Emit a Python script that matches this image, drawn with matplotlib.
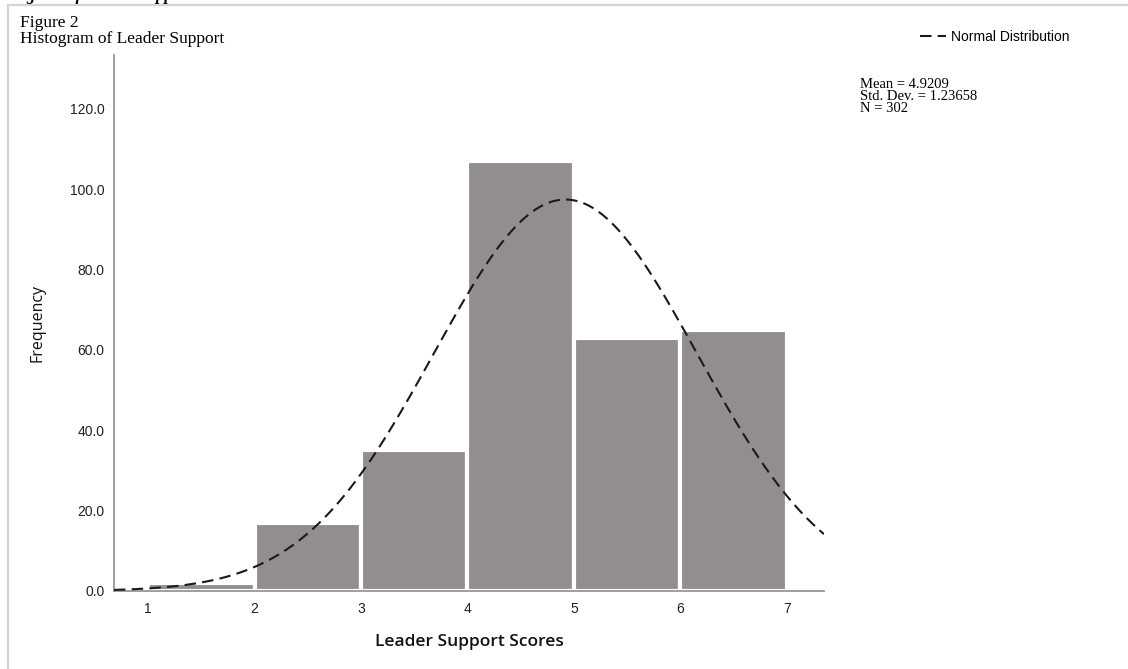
import numpy as np
import matplotlib
matplotlib.use("Agg")
import matplotlib.pyplot as plt
from matplotlib.lines import Line2D

# Leader support score histogram (bins of width 1 from 1 to 7)
bin_edges = [1, 2, 3, 4, 5, 6, 7]
frequencies = [2, 17, 35, 107, 63, 65]
y_ticks = [0, 20, 40, 60, 80, 100, 120]
x_ticks = [1, 2, 3, 4, 5, 6, 7]
mean_score = 4.9209
std_score = 1.23658
n_obs = 302

W, H = 1128, 669
fig = plt.figure(figsize=(W / 100, H / 100), dpi=100)
fig.patch.set_facecolor("white")

def fx(px):
    return px / W

def fy(py):
    return 1 - py / H

# page-like frame lines
fig.add_artist(Line2D([fx(8), fx(8)], [fy(5), 0], color="#d4d4d4", lw=1.6))
fig.add_artist(Line2D([fx(8), 1], [fy(5), fy(5)], color="#d4d4d4", lw=1.6))

# caption heading running off the top edge
fig.text(fx(-10), fy(-0.5), "Histogram of Leader Support", family="Liberation Serif",
         style="italic", weight="bold", fontsize=12, va="baseline", ha="left")

fig.text(fx(20), fy(27), "Figure 2", family="Liberation Serif", fontsize=12.5,
         va="baseline", ha="left")
fig.text(fx(20), fy(43), "Histogram of Leader Support", family="Liberation Serif",
         fontsize=12.5, va="baseline", ha="left")

ax = fig.add_axes([fx(114), fy(591), fx(824) - fx(114), fy(55) - fy(591)])

edges = np.array(bin_edges, dtype=float)
ax.bar(edges[:-1], frequencies, width=np.diff(edges), align="edge",
       color="#928e8d", edgecolor="white", linewidth=3, zorder=2)

xs = np.linspace(0.68, 7.35, 400)
binw = 1.0
curve = n_obs * binw * np.exp(-0.5 * ((xs - mean_score) / std_score) ** 2) / (std_score * np.sqrt(2 * np.pi))
line, = ax.plot(xs, curve, color="#1a1a1a", lw=1.5, linestyle=(0, (5.5, 3)), zorder=3,
                label="Normal Distribution")

ax.set_xlim(0.68, 7.35)
ax.set_ylim(0, 133.4)
ax.set_xticks(x_ticks)
ax.set_xticklabels([str(v) for v in x_ticks])
ax.set_yticks(y_ticks)
ax.set_yticklabels([f"{v:.1f}" for v in y_ticks])
ax.tick_params(length=0, labelsize=10, colors="#222222")
ax.tick_params(axis="y", pad=7)
ax.tick_params(axis="x", pad=8)
for lab in ax.get_xticklabels() + ax.get_yticklabels():
    lab.set_family("Liberation Sans")

for s in ["top", "right"]:
    ax.spines[s].set_visible(False)
for s in ["left", "bottom"]:
    ax.spines[s].set_color("#969696")
    ax.spines[s].set_linewidth(1.3)

ax.set_ylabel("Frequency", family="Open Sans", fontsize=11.5, labelpad=17, color="#111111")
ax.set_xlabel("Leader Support Scores", family="Open Sans", fontsize=12.5, weight="semibold",
              labelpad=13, color="#111111")

# legend entry for the fitted curve
fig.legend(handles=[line], loc="center left", bbox_to_anchor=(fx(920), fy(37)),
           frameon=False, handlelength=1.9, handletextpad=0.35, borderpad=0,
           borderaxespad=0, prop={"family": "Liberation Sans", "size": 10})

# summary statistics block
stat_lines = [f"Mean = {mean_score:.4f}", f"Std. Dev. = {std_score:.5f}", f"N = {n_obs}"]
for i, txt in enumerate(stat_lines):
    fig.text(fx(860), fy(88 + 12 * i), txt, family="Liberation Serif", fontsize=10.5,
             va="baseline", ha="left")

fig.savefig("out.png", dpi=100, facecolor="white")
